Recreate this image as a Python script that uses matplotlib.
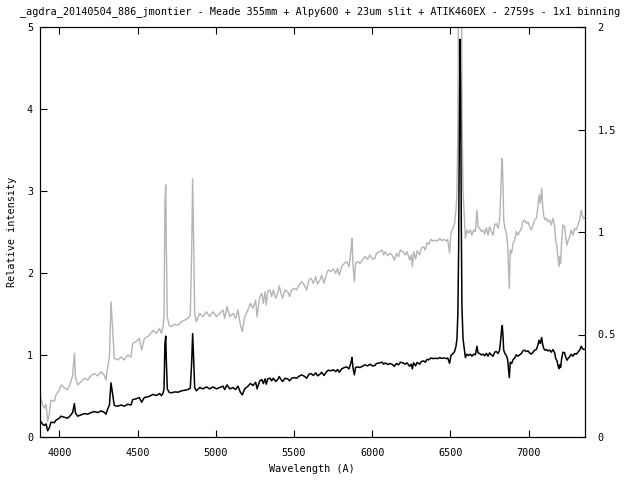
import numpy as np
import matplotlib.pyplot as plt

title = "_agdra_20140504_886_jmontier - Meade 355mm + Alpy600 + 23um slit + ATIK460EX - 2759s - 1x1 binning"

# wavelength (A) and relative intensity
wave = np.array([
    3874, 3893, 3904, 3915, 3925, 3936, 3946, 3968, 3978, 4000, 4010, 4032, 4053, 4074, 4085,
    4096, 4103, 4117, 4138, 4160, 4181, 4202, 4224, 4245, 4266, 4288, 4298, 4309, 4320, 4330,
    4341, 4351, 4373, 4394, 4415, 4437, 4458, 4469, 4490, 4511, 4526, 4543, 4565,
    4577, 4599, 4620, 4641, 4652, 4663, 4669, 4675, 4680, 4684, 4690, 4701, 4716, 4737, 4759,
    4780, 4801, 4822, 4837, 4846, 4852, 4859, 4865, 4876, 4897, 4918, 4940, 4961, 4982, 5004,
    5025, 5046, 5057, 5072, 5089, 5110, 5127, 5142, 5157, 5170, 5185, 5206, 5221, 5238, 5255,
    5264, 5281,
    5294, 5304, 5315, 5323, 5332, 5347, 5357, 5368, 5383, 5396, 5406, 5417, 5428, 5443, 5460,
    5472, 5485, 5502, 5517, 5532, 5549, 5566, 5581, 5596, 5609, 5624, 5639, 5651, 5666, 5677,
    5692, 5709, 5720, 5737, 5752, 5767, 5779, 5790, 5805, 5822, 5837, 5852, 5865, 5871, 5877,
    5886, 5894, 5907, 5922, 5937, 5954, 5971, 5986, 6001, 6018, 6027,
    6048, 6063, 6074, 6084, 6099, 6112, 6127, 6142, 6155, 6169, 6180, 6197, 6212, 6223, 6240,
    6250, 6257, 6265, 6278, 6287, 6304, 6314, 6329, 6340, 6351, 6361, 6376, 6389, 6404, 6419,
    6432, 6446, 6461, 6474, 6483, 6495, 6504, 6517, 6527, 6536, 6542, 6548, 6553, 6558, 6562,
    6566, 6570, 6574, 6581, 6596, 6606, 6617, 6628, 6638, 6649, 6660, 6670, 6677,
    6687, 6698, 6709, 6719, 6730, 6741, 6751, 6762, 6773, 6783, 6794, 6805, 6815, 6822, 6828,
    6832, 6837, 6841, 6849, 6858, 6866, 6873, 6877, 6883, 6892, 6901, 6911, 6922, 6932, 6943,
    6954, 6964, 6975, 6986, 6996, 7007, 7018, 7028, 7039, 7050, 7060, 7067, 7075, 7084, 7090,
    7097, 7105, 7114, 7124, 7135, 7146, 7156, 7167, 7173, 7182, 7188, 7195, 7199, 7205, 7212,
    7220, 7231, 7237, 7246, 7254, 7263, 7273, 7284, 7295, 7305, 7316, 7327, 7337, 7344, 7352,
    7362])

flux = np.array([
    0.21, 0.156, 0.14, 0.16, 0.075, 0.115, 0.18, 0.175, 0.205, 0.23, 0.254, 0.24, 0.23, 0.27, 0.30,
    0.408, 0.29, 0.254, 0.27, 0.286, 0.278, 0.298, 0.31, 0.298, 0.318, 0.30, 0.278, 0.343, 0.39, 0.66,
    0.52, 0.384, 0.376, 0.39, 0.376, 0.40, 0.39, 0.457, 0.465, 0.481, 0.424, 0.481, 0.49,
    0.498, 0.52, 0.505, 0.53, 0.505, 0.535, 0.587, 1.14, 1.23, 0.92, 0.587, 0.546, 0.538, 0.55, 0.546,
    0.563, 0.57, 0.579, 0.595, 0.912, 1.26, 0.93, 0.603, 0.563, 0.603, 0.587, 0.611, 0.587, 0.611, 0.587,
    0.603, 0.62, 0.579, 0.636, 0.587, 0.603, 0.579, 0.62, 0.546, 0.514, 0.587, 0.62, 0.652, 0.628, 0.668,
    0.587, 0.684,
    0.701, 0.652, 0.709, 0.644, 0.709, 0.717, 0.685, 0.717, 0.677, 0.701, 0.737, 0.701, 0.677, 0.717, 0.709,
    0.685, 0.717, 0.725, 0.717, 0.741, 0.758, 0.741, 0.717, 0.766, 0.774, 0.75, 0.782, 0.746, 0.766, 0.79,
    0.75, 0.798, 0.815, 0.807, 0.82, 0.798, 0.823, 0.79, 0.831, 0.847, 0.855, 0.831, 0.912, 0.969, 0.847,
    0.758, 0.847, 0.855, 0.847, 0.863, 0.88, 0.867, 0.888, 0.867, 0.872, 0.896,
    0.904, 0.912, 0.888, 0.904, 0.884, 0.896, 0.888, 0.863, 0.896, 0.88, 0.912, 0.904, 0.888, 0.904, 0.863,
    0.888, 0.831, 0.904, 0.867, 0.909, 0.888, 0.92, 0.928, 0.912, 0.948, 0.94, 0.964, 0.956, 0.96, 0.956,
    0.969, 0.958, 0.964, 0.956, 0.964, 0.899, 0.994, 1.018, 1.042, 1.107, 1.19, 1.5, 2.3, 3.9, 4.85,
    4.2, 2.6, 1.6, 1.2, 0.969, 1.01, 0.994, 1.01, 0.985, 1.01, 1.002, 1.107, 1.026,
    1.018, 1.002, 1.01, 0.99, 1.02, 0.985, 1.026, 1.002, 0.985, 1.034, 1.042, 1.018, 1.059, 1.189, 1.318,
    1.36, 1.22, 1.059, 1.018, 0.994, 0.945, 0.798, 0.725, 0.912, 0.896, 0.945, 0.961, 1.002, 0.985, 1.002,
    1.018, 1.05, 1.059, 1.042, 1.05, 1.026, 1.01, 1.034, 1.059, 1.067, 1.123, 1.18, 1.14, 1.213, 1.13,
    1.08, 1.059, 1.067, 1.05, 1.059, 1.034, 1.067, 1.026, 0.961, 0.928, 0.872, 0.831, 0.88, 0.848, 0.961,
    1.034, 1.026, 0.977, 0.937, 0.961, 0.977, 1.01, 0.985, 1.018, 1.01, 1.034, 1.059, 1.107, 1.08, 1.067,
    1.07])

xticks = [4000, 4500, 5000, 5500, 6000, 6500, 7000]
yticks = [0, 1, 2, 3, 4, 5]
y2ticks = [0, 0.5, 1, 1.5, 2]
y2labels = ["0", "0.5", "1", "1.5", "2"]

plt.rcParams['font.family'] = 'DejaVu Sans Mono'
plt.rcParams['font.size'] = 7.3

fig = plt.figure(figsize=(6.4, 4.8), dpi=100)
ax = fig.add_axes([40/640, 1-437/480, 545/640, 410/480])
ax2 = ax.twinx()

ax2.plot(wave, flux, color='#b4b4b4', lw=1.0)
ax.plot(wave, flux, color='k', lw=1.1)

ax.set_zorder(ax2.get_zorder()+1)
ax.patch.set_visible(False)

ax.set_xlim(3876, 7361)
ax.set_ylim(0, 5)
ax2.set_ylim(0, 2)

ax.set_xticks(xticks)
ax.set_yticks(yticks)
ax2.set_yticks(y2ticks)
ax2.set_yticklabels(y2labels)

ax.tick_params(direction='in', top=True, right=False, length=5, width=0.8)
ax.tick_params(axis='x', pad=8)
ax.tick_params(axis='y', pad=5)
ax2.tick_params(direction='in', length=5, width=0.8, pad=9)
for a in (ax, ax2):
    for s in a.spines.values():
        s.set_linewidth(0.8)

fig.text(0.5, 1-12/480, title, ha='center', va='center')
fig.text(312/640, 1-469/480, "Wavelength (A)", ha='center', va='center')
fig.text(12/640, 1-232/480, "Relative intensity", ha='center', va='center', rotation=90)

fig.savefig('out.png')
